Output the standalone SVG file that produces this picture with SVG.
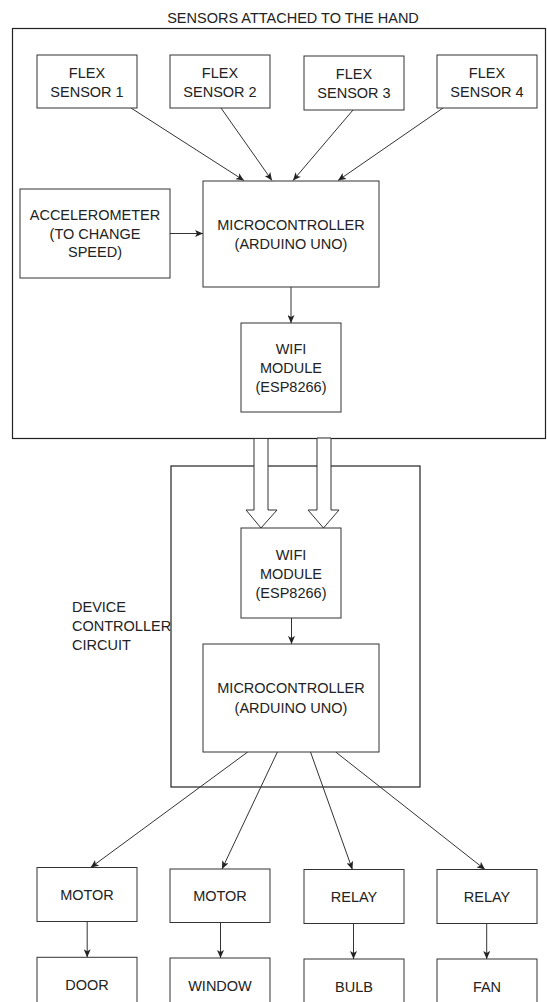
<svg xmlns="http://www.w3.org/2000/svg" width="547" height="1002" viewBox="0 0 547 1002">
<style>
.box{fill:#fff;stroke:#333;stroke-width:1}
.frame{fill:none;stroke:#222;stroke-width:1.2}
.t{font-family:"Liberation Sans",Arial,sans-serif;font-size:14.5px;fill:#222;text-anchor:middle}
.tl{font-family:"Liberation Sans",Arial,sans-serif;font-size:14.5px;fill:#222}
.c{fill:none;stroke:#333;stroke-width:1;marker-end:url(#ah)}
.blk{fill:#fff;stroke:#333;stroke-width:1}
</style>
<defs>
<marker id="ah" viewBox="0 0 8 7" refX="8" refY="3.5" markerWidth="8" markerHeight="7" markerUnits="userSpaceOnUse" orient="auto">
<path d="M0,0 L8,3.5 L0,7 L2,3.5 z" fill="#222"/>
</marker>
</defs>
<rect width="547" height="1002" fill="#fff"/>

<g id="frame-hand">
<text class="t" x="293" y="23">SENSORS ATTACHED TO THE HAND</text>
<rect class="frame" x="12.5" y="28.5" width="533" height="410"/>
</g>
<g id="frame-device">
<rect class="frame" x="171" y="466" width="249" height="321"/>
<text class="tl" x="72" y="611.7">DEVICE</text>
<text class="tl" x="72" y="630.7">CONTROLLER</text>
<text class="tl" x="72" y="649.5">CIRCUIT</text>
</g>

<g id="connectors">
<line class="c" x1="131" y1="108" x2="244" y2="180.5"/>
<line class="c" x1="221" y1="108" x2="272" y2="180.5"/>
<line class="c" x1="353" y1="110" x2="293" y2="180.5"/>
<line class="c" x1="443" y1="108" x2="338" y2="180.5"/>
<line class="c" x1="170" y1="233.5" x2="203" y2="233.5"/>
<line class="c" x1="291" y1="287" x2="291" y2="323"/>
<polygon class="blk" points="254,438.5 268,438.5 268,510 277,510 261,528 246,510 254,510"/>
<polygon class="blk" points="317,438 331,438 331,510 339,510 323.5,528 308,510 317,510"/>
<line class="c" x1="291.5" y1="618" x2="291.5" y2="644"/>
<line class="c" x1="247.7" y1="752" x2="90.7" y2="867.5"/>
<line class="c" x1="277.4" y1="752" x2="222" y2="869"/>
<line class="c" x1="310.5" y1="752" x2="352.4" y2="869.5"/>
<line class="c" x1="335.7" y1="752" x2="485" y2="869.5"/>
<line class="c" x1="87.2" y1="921.3" x2="87.2" y2="957.3"/>
<line class="c" x1="220.5" y1="922.3" x2="220.5" y2="958"/>
<line class="c" x1="353.5" y1="923.3" x2="353.5" y2="959"/>
<line class="c" x1="486.7" y1="923.3" x2="486.7" y2="959"/>
</g>

<g id="flex1"><rect class="box" x="37" y="55" width="100" height="53"/><text class="t" x="87" y="78.3">FLEX</text><text class="t" x="87" y="96.7">SENSOR 1</text></g>
<g id="flex2"><rect class="box" x="170" y="55" width="100" height="53"/><text class="t" x="220" y="78.3">FLEX</text><text class="t" x="220" y="96.7">SENSOR 2</text></g>
<g id="flex3"><rect class="box" x="304" y="56" width="100" height="54"/><text class="t" x="354" y="79.3">FLEX</text><text class="t" x="354" y="97.7">SENSOR 3</text></g>
<g id="flex4"><rect class="box" x="437" y="55" width="100" height="53"/><text class="t" x="487" y="78.3">FLEX</text><text class="t" x="487" y="96.7">SENSOR 4</text></g>

<g id="accel"><rect class="box" x="20" y="189" width="150" height="89"/>
<text class="t" x="95" y="220">ACCELEROMETER</text><text class="t" x="95" y="238.7">(TO CHANGE</text><text class="t" x="95" y="257.4">SPEED)</text></g>

<g id="mcu1"><rect class="box" x="203" y="181" width="176" height="106"/>
<text class="t" x="291" y="230">MICROCONTROLLER</text><text class="t" x="291" y="249">(ARDUINO UNO)</text></g>

<g id="wifi1"><rect class="box" x="241" y="323" width="100" height="89"/>
<text class="t" x="291" y="354.3">WIFI</text><text class="t" x="291" y="373.3">MODULE</text><text class="t" x="291" y="392">(ESP8266)</text></g>

<g id="wifi2"><rect class="box" x="241" y="528" width="100" height="90"/>
<text class="t" x="291" y="560">WIFI</text><text class="t" x="291" y="579">MODULE</text><text class="t" x="291" y="597.5">(ESP8266)</text></g>

<g id="mcu2"><rect class="box" x="203" y="644" width="176" height="108"/>
<text class="t" x="291" y="693.3">MICROCONTROLLER</text><text class="t" x="291" y="712.7">(ARDUINO UNO)</text></g>

<g id="motor1"><rect class="box" x="37" y="867.5" width="100" height="54"/><text class="t" x="87" y="900">MOTOR</text></g>
<g id="motor2"><rect class="box" x="170" y="869" width="100" height="53.5"/><text class="t" x="220" y="900.7">MOTOR</text></g>
<g id="relay1"><rect class="box" x="304" y="869.5" width="100" height="54"/><text class="t" x="354" y="901.7">RELAY</text></g>
<g id="relay2"><rect class="box" x="437" y="869.5" width="100" height="54"/><text class="t" x="487" y="901.7">RELAY</text></g>

<g id="door"><rect class="box" x="37" y="957.3" width="100" height="60"/><text class="t" x="87" y="990">DOOR</text></g>
<g id="window"><rect class="box" x="170" y="958" width="100" height="60"/><text class="t" x="220" y="990.7">WINDOW</text></g>
<g id="bulb"><rect class="box" x="304" y="959" width="100" height="60"/><text class="t" x="354" y="992.3">BULB</text></g>
<g id="fan"><rect class="box" x="437" y="959" width="100" height="60"/><text class="t" x="487" y="992.3">FAN</text></g>
</svg>
